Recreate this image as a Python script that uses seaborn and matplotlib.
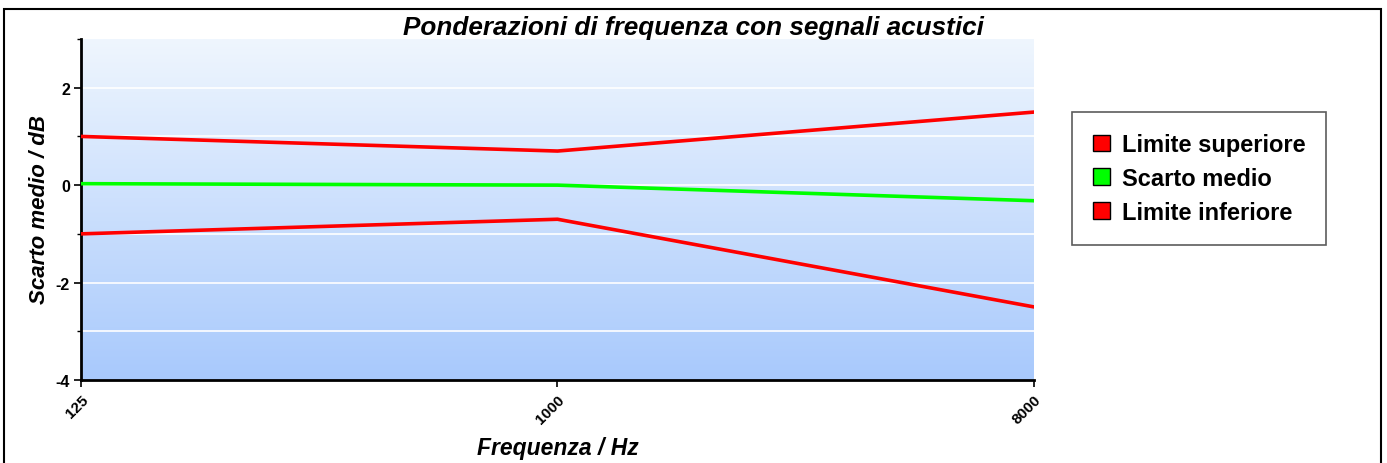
import numpy as np
import pandas as pd
import matplotlib
matplotlib.use("Agg")
import matplotlib.pyplot as plt
from matplotlib.patches import Patch, Rectangle
from matplotlib.colors import LinearSegmentedColormap
import seaborn as sns

frequencies = [125, 1000, 8000]
limite_superiore = [1.0, 0.7, 1.5]
scarto_medio = [0.03, 0.0, -0.32]
limite_inferiore = [-1.0, -0.7, -2.5]
series_names = ["Limite superiore", "Scarto medio", "Limite inferiore"]
series_colors = ["#ff0000", "#00ff00", "#ff0000"]
y_ticks = [-4, -2, 0, 2]
x_tick_labels = ["125", "1000", "8000"]

sns.set_theme(style="white")
plt.rcParams['font.family'] = ['Liberation Sans', 'DejaVu Sans']
for k in ["text.color", "axes.labelcolor", "xtick.color", "ytick.color"]:
    plt.rcParams[k] = "black"

df = pd.DataFrame({
    "freq": frequencies * 3,
    "val": limite_superiore + scarto_medio + limite_inferiore,
    "serie": [series_names[0]] * 3 + [series_names[1]] * 3 + [series_names[2]] * 3,
})

fig = plt.figure(figsize=(13.87, 4.64), dpi=100)
ax = fig.add_axes([81 / 1387, 1 - 381 / 464, (1034 - 81) / 1387, (381 - 40) / 464])

# gradient background
cmap = LinearSegmentedColormap.from_list("bg", ["#a8c9fc", "#eff6fe"])
grad = np.linspace(0, 1, 256).reshape(-1, 1)
ax.imshow(grad, aspect="auto", cmap=cmap, origin="lower",
          extent=[0, 1, 0, 1], transform=ax.transAxes, zorder=0)

for yv in range(-3, 3):
    ax.axhline(yv, color="white", lw=1.2, zorder=1)

palette = dict(zip(series_names, series_colors))
sns.lineplot(data=df, x="freq", y="val", hue="serie", palette=palette,
             hue_order=series_names, ax=ax, lw=2.6, legend=False, zorder=3)

ax.set_xscale("log", base=2)
ax.set_xlim(125, 8000)
ax.set_ylim(-4, 3)
ax.set_xticks(frequencies)
ax.set_xticklabels(x_tick_labels, rotation=45, ha="right", rotation_mode="anchor",
                   fontsize=11, fontweight="bold")
ax.xaxis.set_minor_locator(matplotlib.ticker.NullLocator())
ax.set_yticks(y_ticks)
ax.set_yticklabels([str(v) for v in y_ticks], fontsize=11.5, fontweight="bold")
ax.set_yticks([-3, -1, 1, 3], minor=True)
ax.tick_params(axis="y", which="major", direction="out", length=5, width=1.2, left=True, pad=3)
ax.tick_params(axis="y", which="minor", direction="out", length=3, width=1.0, left=True)
ax.tick_params(axis="x", which="major", direction="out", length=5, width=1.2, bottom=True, pad=4)

for s in ["top", "right"]:
    ax.spines[s].set_visible(False)
for s in ["left", "bottom"]:
    ax.spines[s].set_color("black")
    ax.spines[s].set_linewidth(2)
ax.set_xlabel("")
ax.set_ylabel("")

fig.text(0.5, 1 - 28 / 464, "Ponderazioni di frequenza con segnali acustici",
         ha="center", va="center", fontsize=18.8, fontweight="bold", style="italic")
fig.text(40 / 1387, 1 - 210 / 464, "Scarto medio / dB", rotation=90,
         ha="center", va="center", fontsize=16, fontweight="bold", style="italic")
fig.text(558 / 1387, 1 - 449 / 464, "Frequenza / Hz",
         ha="center", va="center", fontsize=16.5, fontweight="bold", style="italic")

handles = [Patch(facecolor=c, edgecolor="black", lw=1) for c in series_colors]
leg = fig.legend(handles, series_names, loc="upper left",
                 bbox_to_anchor=(1072 / 1387, 1 - 113 / 464),
                 frameon=True, fancybox=False, edgecolor="#333333",
                 prop={"weight": "bold", "size": 17}, handlelength=0.7, handleheight=0.7,
                 handletextpad=0.5, labelspacing=0.45, borderpad=0.9, borderaxespad=0)
leg.get_frame().set_linewidth(1.2)

fig.patches.append(Rectangle((4 / 1387, -0.1), (1381 - 4) / 1387, 1.1 - 10 / 464,
                             transform=fig.transFigure, fill=False,
                             edgecolor="black", lw=1.5))

fig.savefig("out.png", dpi=100)
